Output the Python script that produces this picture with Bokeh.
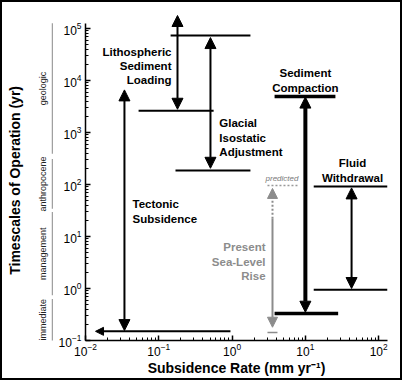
import math
from bokeh.plotting import figure
from bokeh.models import Arrow, NormalHead, Range1d, InlineStyleSheet
from bokeh.layouts import row
from bokeh.embed import file_html
from bokeh.resources import INLINE
from bokeh.core.properties import value

FONT = "Liberation Sans"

# ---------------- data ----------------
X_RANGE = (0.01, 132)
Y_RANGE = (0.1, 1.86e5)
Y_AXIS_BOUNDS = (0.1, 1.26e5)
LEFT_Y_RANGE = (0.0316, 1.86e5)

# timescale categories (left margin bands, yr)
cat_names = ["geologic", "anthropocene", "management", "immediate"]
cat_lo = [390, 34, 0.74, 0.1]
cat_hi = [1.26e5, 310, 29.5, 0.63]

# double-headed process arrows (x = rate mm/yr, lo/hi = timescale yr)
proc_names = ["Tectonic Subsidence", "Lithospheric Sediment Loading",
              "Glacial Isostatic Adjustment", "Sediment Compaction", "Fluid Withdrawal"]
arrow_x = [0.034, 0.18, 0.507, 10, 42.7]
arrow_lo = [0.155, 2800, 205, 0.35, 1.0]
arrow_hi = [6600, 1.78e5, 6.7e4, 4800, 86]

# thin horizontal range bars
bar_y = [7.3e4, 2630, 186, 92, 0.95]
bar_x0 = [0.145, 0.053, 0.169, 13, 13]
bar_x1 = [1.78, 0.56, 1.78, 132, 132]

# thick bars (sediment compaction)
tbar_y = [4900, 0.33]
tbar_x0 = [3.8, 3.8]
tbar_x1 = [25.7, 28]

# tectonic horizontal arrow
tect_y = 0.15
tect_x_from = 0.95
tect_x_to = 0.0137

# present sea-level rise
slr_x = 3.56
slr_split = 22
slr_top = 84
slr_bottom = 0.18
slr_base_y = 0.143
slr_base_x0, slr_base_x1 = 3.04, 4.16
pred_y = 96
pred_x0, pred_x1 = 3.04, 7.8

# labels
lab_text = ["Lithospheric\nSediment\nLoading", "Glacial\nIsostatic\nAdjustment",
            "Tectonic\nSubsidence", "Sediment\nCompaction", "Fluid\nWithdrawal"]
lab_x = [0.149, 0.67, 0.0438, 10, 44]
lab_y = [19000, 795, 30, 10000, 186]
lab_align = ["right", "left", "left", "center", "center"]

slr_text = "Present\nSea-Level\nRise"
slr_lab_x, slr_lab_y = 2.86, 3.3
pred_text = "predicted"
pred_lab_x, pred_lab_y = 4.8, 130

x_title = "Subsidence Rate (mm yr\u207b\u00b9)"
y_title = "Timescales of Operation (yr)"
y_title_pos = 120

# ---------------- main figure ----------------
p = figure(frame_width=302, frame_height=326, min_border_left=32, min_border_right=15,
           min_border_top=14, min_border_bottom=40,
           x_axis_type="log", y_axis_type="log",
           x_range=Range1d(*X_RANGE), y_range=Range1d(*Y_RANGE),
           toolbar_location=None, output_backend="svg", title=None)
p.outline_line_color = None
p.grid.visible = False
for ax in (p.xaxis, p.yaxis):
    ax.axis_line_width = 1.5
    ax.axis_line_color = "black"
    ax.major_tick_in = 5
    ax.major_tick_out = 0
    ax.minor_tick_in = 3
    ax.minor_tick_out = 0
    ax.major_tick_line_width = 1.5
    ax.minor_tick_line_width = 1
    ax.major_label_text_font = FONT
    ax.major_label_text_font_size = "12px"
    ax.major_label_text_color = "black"
p.yaxis.bounds = Y_AXIS_BOUNDS
p.yaxis.major_label_standoff = 4
p.xaxis.major_label_standoff = 2
p.xaxis.axis_label = x_title
p.xaxis.axis_label_text_font = FONT
p.xaxis.axis_label_text_font_style = "bold"
p.xaxis.axis_label_text_font_size = "14px"
p.xaxis.axis_label_text_color = "black"
p.xaxis.axis_label_standoff = 1

BLACK = "black"
GREY = "#8c8c8c"


def head(size, color):
    return NormalHead(size=size, fill_color=color, line_color=color, line_width=1)


# thin bars
p.segment(x0=bar_x0, x1=bar_x1, y0=bar_y, y1=bar_y, line_color=BLACK, line_width=2)
# thick bars
p.segment(x0=tbar_x0, x1=tbar_x1, y0=tbar_y, y1=tbar_y, line_color=BLACK, line_width=3.5)

# process arrows
for name, ax_, lo, hi in zip(proc_names, arrow_x, arrow_lo, arrow_hi):
    thick = name == "Sediment Compaction"
    lw = 4 if thick else 2
    p.add_layout(Arrow(x_start=ax_, y_start=lo, x_end=ax_, y_end=hi,
                       start=head(11, BLACK), end=head(11, BLACK),
                       line_color=BLACK, line_width=lw))

# tectonic horizontal arrow
p.add_layout(Arrow(x_start=tect_x_from, y_start=tect_y, x_end=tect_x_to, y_end=tect_y,
                   end=head(8, BLACK), line_color=BLACK, line_width=2))

# sea-level rise arrows
p.add_layout(Arrow(x_start=slr_x, y_start=slr_split, x_end=slr_x, y_end=slr_bottom,
                   end=head(10, GREY), line_color=GREY, line_width=2))
p.add_layout(Arrow(x_start=slr_x, y_start=slr_split, x_end=slr_x, y_end=slr_top,
                   end=head(10, GREY), line_color=GREY, line_width=2, line_dash="2 2"))
p.segment(x0=[slr_base_x0], x1=[slr_base_x1], y0=[slr_base_y], y1=[slr_base_y],
          line_color=GREY, line_width=1.5)
p.segment(x0=[pred_x0], x1=[pred_x1], y0=[pred_y], y1=[pred_y],
          line_color="#999999", line_width=1.5, line_dash="2 2")

# process labels
for t, x, y, a in zip(lab_text, lab_x, lab_y, lab_align):
    p.text(x=[x], y=[y], text=[t], text_font=value(FONT), text_font_style="bold",
           text_font_size="11.5px", text_align=a, text_baseline="middle",
           text_color=BLACK, text_line_height=1.2)
p.text(x=[slr_lab_x], y=[slr_lab_y], text=[slr_text], text_font=value(FONT),
       text_font_style="bold", text_font_size="11.5px", text_align="right",
       text_baseline="middle", text_color=GREY, text_line_height=1.2)
p.text(x=[pred_lab_x], y=[pred_lab_y], text=[pred_text], text_font=value(FONT),
       text_font_style="italic", text_font_size="8px", text_align="center",
       text_baseline="middle", text_color="#7a7a7a")

# ---------------- left margin panel ----------------
pl = figure(frame_width=53, frame_height=352, min_border_left=0, min_border_right=0,
            min_border_top=14, min_border_bottom=0,
            x_range=Range1d(0, 53), y_range=Range1d(*LEFT_Y_RANGE), y_axis_type="log",
            x_axis_location=None, y_axis_location=None,
            toolbar_location=None, output_backend="svg", title=None)
pl.outline_line_color = None
pl.grid.visible = False

pl.segment(x0=[52] * len(cat_names), x1=[52] * len(cat_names), y0=cat_lo, y1=cat_hi,
           line_color="#a0a0a0", line_width=1.5)
cat_mid = [math.sqrt(a * b) for a, b in zip(cat_lo, cat_hi)]
pl.text(x=[42] * len(cat_names), y=cat_mid, text=cat_names, angle=math.pi / 2,
        text_font=value(FONT), text_font_size="9px", text_align="center",
        text_baseline="middle", text_color="#222222")
pl.text(x=[14], y=[y_title_pos], text=[y_title], angle=math.pi / 2,
        text_font=value(FONT), text_font_style="bold", text_font_size="14px",
        text_align="center", text_baseline="middle", text_color=BLACK)

frame_css = InlineStyleSheet(css="""
:host { position: relative; }
:host::after {
  content: ""; position: absolute; left: 0; top: 0; width: 402px; height: 380px;
  border: 2px solid black; box-sizing: border-box; pointer-events: none; z-index: 100;
}
""")

layout = row(pl, p, stylesheets=[frame_css])

open("out.html", "w").write(file_html(layout, INLINE))
